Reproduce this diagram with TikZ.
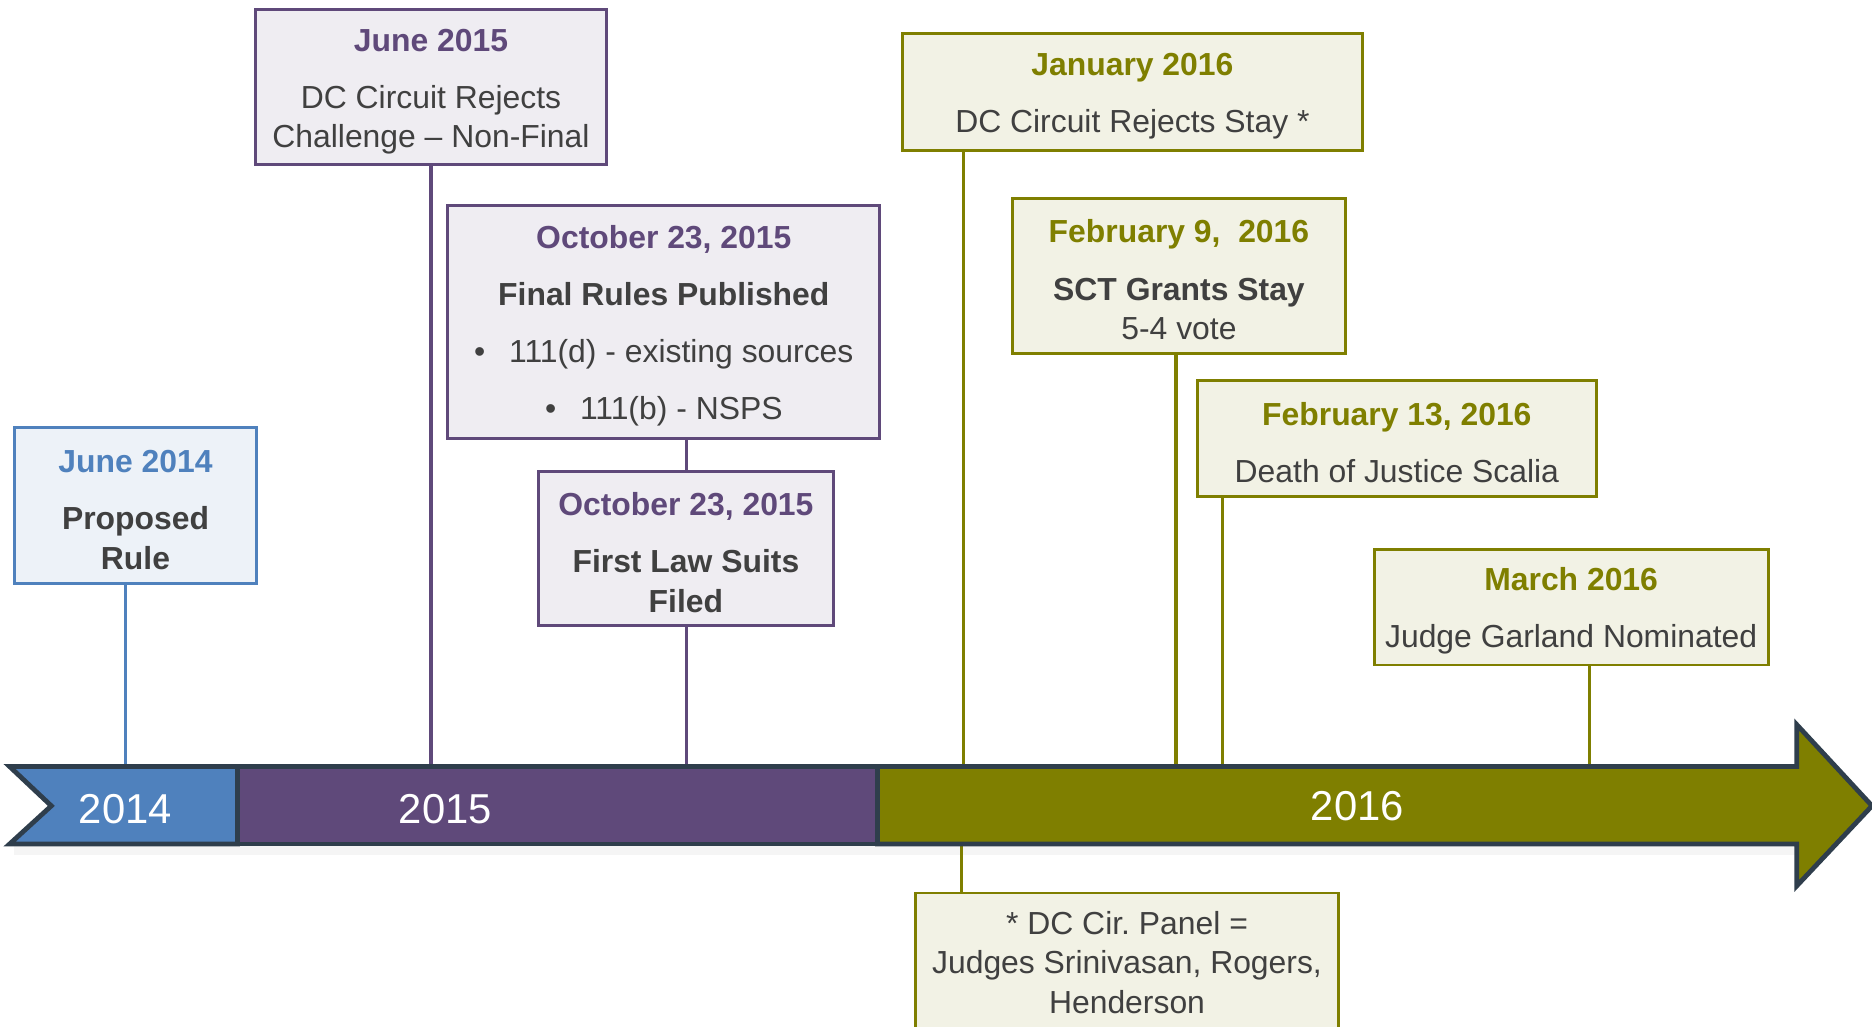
\documentclass[tikz,border=0pt]{standalone}
\usepackage{fontspec}
\setmainfont{Liberation Sans}
\frenchspacing
\definecolor{blueC}{HTML}{4F81BD}
\definecolor{purpC}{HTML}{5F497A}
\definecolor{oliveC}{HTML}{7F7F00}
\definecolor{barC}{HTML}{2F3E4C}
\definecolor{txtC}{HTML}{404040}
\tikzset{
	evbox/.style={draw=#1, fill=#1!10, line width=1.2pt, inner sep=0pt, align=center, text=txtC, font=\fontsize{13.35}{16.5}\selectfont},
	stem/.style={draw=#1, line width=1.3pt},
	bar/.style={draw=barC, line width=2pt, line join=miter},
	yearlbl/.style={text=white, font=\fontsize{17.5}{20}\selectfont},
}
\newcommand{\evdate}[2]{\rule{0pt}{13pt}\textbf{\color{#1}#2}\\[7.5pt]}
\begin{document}
\begin{tikzpicture}[x=0.5pt, y=-0.5pt]
	\clip (0,0) rectangle (1568,860);
	\fill[white] (0,0) rectangle (1568,860);
	\fill[black!4] (12,709) rectangle (1505,716);
	\node (jun14) at (113.5,423.5) [evbox=blueC, minimum width=101.5pt, minimum height=65.5pt] {\evdate{blueC}{June 2014}\textbf{Proposed}\\\textbf{Rule}};
	\node (jun15) at (361,73) [evbox=purpC, minimum width=147pt, minimum height=65pt] {\evdate{purpC}{June 2015}DC Circuit Rejects\\Challenge – Non-Final};
	\node (oct15a) at (556,269.5) [evbox=purpC, minimum width=181pt, minimum height=97.5pt] {\evdate{purpC}{October 23, 2015}\textbf{Final Rules Published}\\[7.5pt]•\hspace{10pt}111(d) - existing sources\\[7.5pt]•\hspace{10pt}111(b) - NSPS};
	\node (oct15b) at (574.5,459.5) [evbox=purpC, minimum width=123.5pt, minimum height=64.5pt] {\evdate{purpC}{October 23, 2015}\textbf{First Law Suits}\\\textbf{Filed}};
	\node (jan16) at (948.5,77) [evbox=oliveC, minimum width=192.5pt, minimum height=49pt] {\evdate{oliveC}{January 2016}DC Circuit Rejects Stay *};
	\node (feb9) at (987.5,231) [evbox=oliveC, minimum width=139.5pt, minimum height=65pt] {\evdate{oliveC}{February 9,\ \ 2016}\textbf{SCT Grants Stay}\\5-4 vote};
	\node (feb13) at (1170,367.5) [evbox=oliveC, minimum width=167pt, minimum height=48.5pt] {\evdate{oliveC}{February 13, 2016}Death of Justice Scalia};
	\node (mar16) at (1316,508.5) [evbox=oliveC, minimum width=165pt, minimum height=48.5pt] {\evdate{oliveC}{March 2016}Judge Garland Nominated};
	\node (panel) at (944,806) [evbox=oliveC, minimum width=177pt, minimum height=58pt] {* DC Cir. Panel =\\Judges Srinivasan, Rogers,\\Henderson};
	\coordinate (t1) at (105,642);
	\coordinate (t2) at (361,642);
	\coordinate (t3) at (575,642);
	\coordinate (t4) at (807,642);
	\coordinate (t5) at (985,642);
	\coordinate (t6) at (1024,642);
	\coordinate (t7) at (1331,642);
	\coordinate (u4) at (805,707);
	\draw[stem=blueC] (jun14.south -| t1) -- (t1);
	\draw[stem=purpC] (jun15.south -| t2) -- (t2);
	\draw[stem=purpC] (oct15a.south -| t3) -- (oct15b.north -| t3);
	\draw[stem=purpC] (oct15b.south -| t3) -- (t3);
	\draw[stem=oliveC] (jan16.south -| t4) -- (t4);
	\draw[stem=oliveC] (feb9.south -| t5) -- (t5);
	\draw[stem=oliveC] (feb13.south -| t6) -- (t6);
	\draw[stem=oliveC] (mar16.south -| t7) -- (t7);
	\draw[stem=oliveC] (u4) -- (panel.north -| u4);
	\draw[bar, fill=blueC] (8,642) -- (199,642) -- (199,707) -- (8,707) -- (43,675) -- cycle;
	\draw[bar, fill=purpC] (199,642) rectangle (735,707);
	\draw[bar, fill=oliveC] (735,642) -- (1505,642) -- (1505,607) -- (1568,675) -- (1505,742) -- (1505,707) -- (735,707) -- cycle;
	\node (y14) at (105,678) [yearlbl] {2014};
	\node (y15) at (373,678) [yearlbl] {2015};
	\node (y16) at (1137,675) [yearlbl] {2016};
\end{tikzpicture}
\end{document}
